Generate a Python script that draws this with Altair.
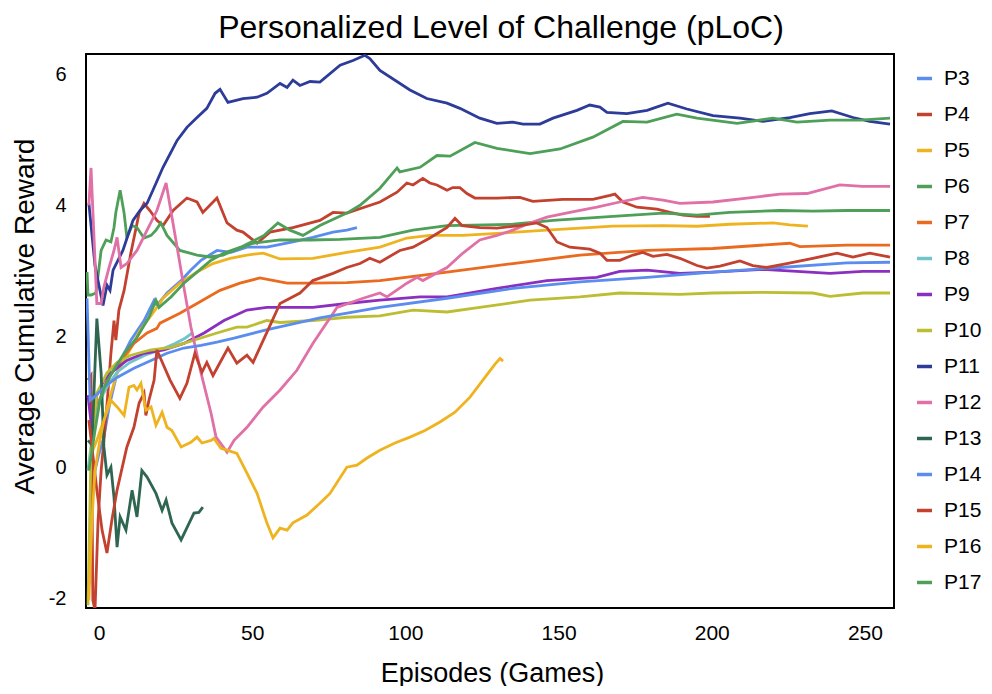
import altair as alt
import pandas as pd

SERIES = ["P3", "P4", "P5", "P6", "P7", "P8", "P9", "P10",
          "P11", "P12", "P13", "P14", "P15", "P16", "P17"]
COLORS = ["#5b8def", "#c2412f", "#efb320", "#4e9f57", "#ea6a1f", "#71c4cc",
          "#8a2fc0", "#bdbd33", "#2d3b99", "#e070a6", "#2e6651", "#5b8def",
          "#c2412f", "#efb320", "#4e9f57"]

X_TICKS = [0, 50, 100, 150, 200, 250]
Y_TICKS = [-2, 0, 2, 4, 6]

# values (episode, average cumulative reward)
P3_X = [-2.9, -1.3, 0.3, 1.6, 3.3, 5.9, 8.2, 10.4, 14.7, 18.0, 18.9, 22.2, 26.8,
        30.0, 33.3, 38.5, 43.1, 48.3, 54.8, 63.3, 69.8, 76.4, 80.9, 84.2]
P3_Y = [-0.81, -0.05, 0.26, 0.46, 0.92, 1.44, 1.74, 1.94, 2.24, 2.55, 2.47, 2.66,
        2.85, 3.01, 3.16, 3.31, 3.28, 3.36, 3.36, 3.44, 3.51, 3.59, 3.62, 3.66]

P4_X = [-3.6, -2.6, -2.0, -1.3, -0.3, 0.7, 1.6, 2.6, 3.9, 4.9, 5.5, 6.5, 8.2, 10.4,
        13.1, 14.7, 16.6, 18.9, 20.9, 24.2, 28.7, 32.0, 33.9, 38.5, 41.8, 45.0,
        47.0, 51.6, 55.8, 63.3, 72.1, 76.4, 80.9, 91.7, 97.3, 100.5, 102.5, 105.7,
        108.0, 110.3, 113.6, 115.5, 117.8, 120.1, 122.7, 129.9, 137.4, 141.6,
        151.4, 161.2, 166.8, 168.4, 171.0, 175.6, 182.1, 186.4, 190.6, 195.2, 199.4]
P4_Y = [1.33, 1.40, -2.03, -2.18, -0.81, -0.05, 0.41, 0.95, 1.74, 2.24, 1.94, 2.40,
        2.70, 3.27, 3.88, 4.03, 3.92, 3.77, 3.69, 3.92, 4.11, 4.05, 3.89, 4.11,
        3.73, 3.62, 3.59, 3.42, 3.59, 3.66, 3.77, 3.89, 3.88, 4.05, 4.20, 4.34,
        4.31, 4.41, 4.34, 4.31, 4.23, 4.27, 4.27, 4.18, 4.11, 4.11, 4.12, 4.06,
        4.09, 4.09, 4.15, 4.17, 4.05, 3.97, 3.94, 3.89, 3.85, 3.83, 3.83]

P5_X = [-3.3, -2.0, -0.7, 1.6, 3.3, 5.9, 10.4, 13.4, 16.6, 18.9, 20.9, 26.4, 32.0,
        37.2, 42.8, 48.3, 53.6, 59.1, 69.8, 80.9, 91.7, 100.5, 108.0, 118.8,
        129.9, 146.2, 157.0, 167.8, 184.1, 195.2, 205.9, 220.0, 225.5, 231.4]
P5_Y = [-0.05, 0.26, 0.41, 0.72, 1.02, 1.44, 1.82, 2.09, 2.29, 2.44, 2.58, 2.81,
        2.98, 3.11, 3.19, 3.24, 3.27, 3.18, 3.19, 3.28, 3.36, 3.50, 3.54, 3.54,
        3.57, 3.62, 3.65, 3.68, 3.69, 3.68, 3.71, 3.73, 3.70, 3.68]

P6_X = [-3.9, -3.6, -2.6, -1.0, 0.7, 2.3, 3.9, 4.9, 5.5, 6.9, 8.2, 9.1, 10.8, 12.4,
        14.7, 17.0, 18.6, 20.2, 22.2, 26.4, 32.0, 36.2, 40.5, 45.0, 50.3, 59.1,
        68.9, 78.7, 91.7, 102.5, 113.6, 135.1, 148.2, 167.8, 184.1, 195.2, 205.9,
        222.3, 233.0, 244.1, 258.2]
P6_Y = [2.98, 2.63, 2.63, 2.66, 3.31, 3.47, 3.44, 3.66, 3.89, 4.23, 3.88, 3.51,
        3.69, 3.66, 3.50, 3.54, 3.62, 3.73, 3.54, 3.31, 3.24, 3.21, 3.24, 3.33,
        3.42, 3.47, 3.47, 3.48, 3.51, 3.62, 3.69, 3.71, 3.77, 3.83, 3.88, 3.85,
        3.89, 3.92, 3.91, 3.92, 3.92]

P7_X = [-2.6, -0.7, 2.6, 7.2, 11.4, 15.7, 18.9, 19.9, 26.4, 32.0, 39.5, 46.0, 52.5,
        61.4, 69.8, 80.9, 91.7, 113.6, 135.1, 157.0, 178.9, 200.4, 225.5, 228.8,
        244.1, 258.2]
P7_Y = [0.56, 0.92, 1.33, 1.63, 1.89, 2.05, 2.12, 2.20, 2.35, 2.50, 2.70, 2.81,
        2.89, 2.81, 2.81, 2.82, 2.85, 2.98, 3.11, 3.24, 3.31, 3.34, 3.42, 3.37,
        3.39, 3.39]

P8_X = [-3.6, -2.0, 0.3, 2.9, 5.9, 10.1, 15.0, 19.9, 24.8, 28.1, 30.7]
P8_Y = [-0.05, 0.56, 1.02, 1.25, 1.45, 1.60, 1.71, 1.79, 1.89, 1.97, 2.06]

P9_X = [-3.6, -2.3, -0.7, 1.6, 4.9, 9.1, 14.7, 21.2, 27.7, 34.3, 40.8, 48.3, 54.8,
        69.8, 80.9, 91.7, 104.8, 113.6, 129.9, 146.2, 162.5, 170.0, 178.9, 189.6,
        200.4, 216.7, 227.8, 238.6, 249.3, 258.2]
P9_Y = [1.10, 0.56, 1.10, 1.33, 1.48, 1.63, 1.74, 1.79, 1.89, 2.05, 2.24, 2.40,
        2.44, 2.44, 2.50, 2.55, 2.60, 2.60, 2.73, 2.85, 2.90, 2.99, 3.01, 2.96,
        2.98, 3.02, 2.99, 2.96, 2.99, 2.99]

P10_X = [-3.6, -2.6, -0.7, 2.6, 5.9, 10.4, 17.0, 23.5, 31.0, 38.5, 45.0, 48.3, 54.8,
         59.1, 69.8, 80.9, 91.7, 102.5, 113.6, 124.3, 140.7, 157.0, 170.0, 189.6,
         200.4, 216.7, 233.0, 238.6, 249.3, 258.2]
P10_Y = [-2.11, 0.26, 1.13, 1.44, 1.60, 1.71, 1.79, 1.83, 1.94, 2.05, 2.14, 2.14,
         2.24, 2.21, 2.24, 2.29, 2.31, 2.40, 2.37, 2.44, 2.55, 2.60, 2.66, 2.64,
         2.66, 2.67, 2.66, 2.61, 2.66, 2.66]

P11_X = [-3.3, -1.3, 1.3, 2.6, 3.6, 4.6, 7.8, 11.1, 13.4, 15.7, 17.6, 20.9, 25.5,
         28.7, 32.0, 35.2, 37.9, 39.5, 42.1, 47.0, 51.6, 54.8, 59.1, 61.4, 63.3,
         65.6, 68.9, 72.1, 78.7, 82.9, 86.8, 88.4, 91.7, 101.5, 107.0, 113.6,
         117.8, 124.3, 129.9, 135.1, 138.4, 143.9, 148.2, 156.0, 160.2, 163.5,
         165.8, 172.3, 178.9, 185.7, 191.9, 200.4, 209.2, 216.7, 225.5, 232.0,
         239.2, 246.1, 251.6, 258.2]
P11_Y = [4.03, 3.08, 2.47, 2.78, 2.70, 3.01, 3.31, 3.77, 3.92, 4.03, 4.23, 4.58,
         4.99, 5.19, 5.34, 5.48, 5.71, 5.77, 5.57, 5.63, 5.65, 5.71, 5.86, 5.80,
         5.91, 5.83, 5.89, 5.88, 6.14, 6.21, 6.29, 6.24, 6.06, 5.76, 5.63, 5.56,
         5.48, 5.33, 5.25, 5.27, 5.24, 5.24, 5.33, 5.45, 5.53, 5.50, 5.42, 5.40,
         5.45, 5.56, 5.47, 5.37, 5.33, 5.28, 5.34, 5.40, 5.44, 5.34, 5.28, 5.24]

P12_X = [-3.3, -2.6, -0.7, 0.7, 1.6, 3.3, 4.9, 5.9, 7.2, 9.1, 12.4, 15.7, 18.9,
         21.9, 25.1, 27.7, 30.0, 33.3, 36.6, 38.2, 41.8, 44.1, 48.3, 53.6, 59.1,
         64.6, 69.8, 77.7, 86.2, 91.7, 94.0, 100.5, 103.8, 105.7, 113.6, 118.8,
         124.3, 129.9, 135.1, 140.7, 146.2, 153.7, 162.5, 170.0, 177.5, 184.1,
         189.6, 200.4, 211.5, 222.3, 231.1, 241.8, 249.3, 258.2]
P12_Y = [4.00, 4.57, 2.50, 2.50, 2.75, 3.05, 3.31, 3.51, 3.05, 3.11, 3.31, 3.62,
         3.92, 4.34, 3.47, 2.75, 2.14, 1.44, 0.82, 0.46, 0.23, 0.41, 0.61, 0.92,
         1.18, 1.48, 1.89, 2.44, 2.58, 2.66, 2.60, 2.81, 2.90, 2.85, 3.05, 3.27,
         3.47, 3.54, 3.62, 3.73, 3.82, 3.89, 3.97, 4.05, 4.12, 4.08, 4.03, 4.05,
         4.11, 4.17, 4.18, 4.31, 4.29, 4.29]

P13_X = [-3.6, -2.3, -0.7, 0.7, 1.6, 2.6, 3.9, 4.9, 5.9, 6.9, 8.8, 10.8, 12.4, 14.0,
         15.7, 18.6, 20.6, 21.9, 23.8, 26.8, 31.0, 32.6, 33.9]
P13_Y = [0.41, 0.34, 2.27, 1.44, 0.31, -0.12, 0.00, -0.46, -1.22, -0.76, -0.96,
         -0.35, -0.76, -0.05, -0.15, -0.40, -0.66, -0.50, -0.85, -1.11, -0.70,
         -0.69, -0.61]

P14_X = [-3.9, -2.9, -1.6, 1.6, 5.9, 11.4, 17.0, 22.2, 27.7, 33.3, 38.5, 44.1, 53.9,
         72.1, 91.7, 113.6, 135.1, 157.0, 178.9, 200.4, 222.3, 244.1, 258.2]
P14_Y = [2.58, 1.02, 1.07, 1.22, 1.37, 1.51, 1.63, 1.74, 1.82, 1.86, 1.91, 1.97,
         2.09, 2.28, 2.44, 2.58, 2.73, 2.83, 2.90, 2.98, 3.05, 3.12, 3.13]

P15_X = [-3.3, -0.7, 1.0, 2.6, 4.2, 5.9, 9.1, 11.4, 13.1, 14.7, 15.3, 16.3, 18.0,
         18.9, 23.2, 26.4, 28.7, 31.3, 33.6, 35.2, 37.2, 42.1, 45.0, 48.3, 50.3,
         54.8, 59.1, 65.6, 69.8, 76.4, 80.9, 85.2, 88.4, 91.7, 98.2, 102.5, 108.0,
         113.6, 116.2, 118.5, 124.3, 129.9, 137.4, 142.9, 146.2, 149.5, 153.7,
         160.2, 163.5, 165.8, 170.0, 174.3, 177.5, 180.8, 185.4, 189.6, 195.2,
         198.4, 202.7, 209.2, 213.4, 218.0, 224.5, 233.0, 240.9, 246.1, 251.6, 258.2]
P15_Y = [0.72, -0.35, -0.96, -1.31, -0.81, -0.35, 0.31, 0.61, 0.98, 1.13, 0.79,
         1.02, 1.33, 1.79, 1.33, 1.05, 1.28, 1.74, 1.45, 1.60, 1.40, 1.82, 1.59,
         1.71, 1.60, 2.06, 2.50, 2.66, 2.85, 2.96, 3.05, 3.11, 3.19, 3.13, 3.31,
         3.36, 3.50, 3.66, 3.80, 3.69, 3.66, 3.65, 3.69, 3.73, 3.66, 3.44, 3.36,
         3.33, 3.27, 3.16, 3.16, 3.24, 3.28, 3.22, 3.25, 3.19, 3.08, 3.04, 3.07,
         3.15, 3.08, 3.05, 3.11, 3.19, 3.27, 3.21, 3.27, 3.21]

P16_X = [-3.3, -2.3, -1.3, 0.3, 1.6, 3.9, 5.9, 8.2, 9.8, 11.4, 12.4, 13.7, 15.3,
         17.0, 18.6, 20.6, 22.2, 23.8, 26.8, 30.0, 32.0, 33.6, 36.6, 37.5, 39.8,
         41.8, 45.0, 48.3, 51.6, 54.8, 56.8, 59.1, 61.4, 63.3, 67.9, 72.1, 75.4,
         80.9, 84.2, 87.5, 91.7, 96.6, 101.5, 106.4, 111.3, 116.2, 121.1, 125.3,
         129.2, 130.9, 131.9]
P16_Y = [-2.03, -0.81, -0.05, 0.41, 0.72, 1.02, 0.92, 0.79, 1.22, 1.25, 1.18, 1.28,
         0.87, 0.92, 0.64, 0.84, 0.61, 0.56, 0.31, 0.38, 0.46, 0.37, 0.41, 0.44,
         0.29, 0.26, 0.21, -0.09, -0.40, -0.85, -1.08, -0.93, -0.96, -0.85, -0.73,
         -0.55, -0.40, 0.00, 0.03, 0.14, 0.26, 0.37, 0.46, 0.56, 0.69, 0.84, 1.07,
         1.33, 1.57, 1.66, 1.62]

P17_X = [-3.3, -1.3, 0.3, 2.0, 4.2, 8.2, 12.4, 16.3, 18.6, 19.6, 23.5, 27.7, 32.0,
         36.6, 40.8, 46.3, 53.9, 58.4, 62.3, 66.6, 72.1, 80.9, 85.2, 91.7, 97.3,
         98.2, 104.8, 110.3, 114.6, 122.7, 129.9, 140.7, 150.5, 161.2, 171.0,
         178.9, 188.6, 195.2, 208.3, 220.0, 227.8, 238.6, 248.4, 258.2]
P17_Y = [-0.05, 0.56, 1.02, 1.25, 1.44, 1.74, 1.98, 2.29, 2.55, 2.44, 2.60, 2.81,
         2.98, 3.16, 3.27, 3.36, 3.54, 3.73, 3.62, 3.54, 3.69, 3.88, 4.00, 4.26,
         4.57, 4.51, 4.58, 4.76, 4.75, 4.96, 4.87, 4.79, 4.86, 5.04, 5.28, 5.27,
         5.39, 5.33, 5.25, 5.33, 5.27, 5.30, 5.30, 5.33]

PAIRS = [
    ("P3", P3_X, P3_Y), ("P4", P4_X, P4_Y), ("P5", P5_X, P5_Y),
    ("P6", P6_X, P6_Y), ("P7", P7_X, P7_Y), ("P8", P8_X, P8_Y),
    ("P9", P9_X, P9_Y), ("P10", P10_X, P10_Y), ("P11", P11_X, P11_Y),
    ("P12", P12_X, P12_Y), ("P13", P13_X, P13_Y), ("P14", P14_X, P14_Y),
    ("P15", P15_X, P15_Y), ("P16", P16_X, P16_Y), ("P17", P17_X, P17_Y),
]

data = pd.concat(
    [pd.DataFrame({"participant": name, "episode": xs, "reward": ys})
     for name, xs, ys in PAIRS],
    ignore_index=True,
)

FONT = "Liberation Sans, Arial, sans-serif"
NARROW = "Liberation Sans Narrow, Arial Narrow, Liberation Sans, sans-serif"

chart = alt.Chart(data).mark_line(strokeWidth=2.8, clip=True).encode(
    x=alt.X(
        "episode:Q",
        title="Episodes (Games)",
        scale=alt.Scale(domain=[-4.24, 259.5], nice=False, zero=False),
        axis=alt.Axis(
            values=X_TICKS, labelFontSize=21, labelPadding=14,
            labelFont=NARROW, titleFontSize=27,
            titleX=406, titleY=73, titleBaseline="alphabetic",
        ),
    ),
    y=alt.Y(
        "reward:Q",
        title="Average Cumulative Reward",
        scale=alt.Scale(domain=[-2.15, 6.31], nice=False, zero=False),
        axis=alt.Axis(
            values=Y_TICKS, labelFontSize=20, labelPadding=20, labelFont=FONT,
            labelExpr="datum.value + ''",
            titleFontSize=28, titleX=-53, titleY=262,
            titleBaseline="alphabetic", titleAngle=-90,
        ),
    ),
    color=alt.Color(
        "participant:N",
        scale=alt.Scale(domain=SERIES, range=COLORS),
        legend=alt.Legend(
            title=None, orient="none", legendX=828, legendY=14,
            symbolType="stroke", symbolSize=225, symbolStrokeWidth=3.5,
            labelFontSize=21, labelOffset=9, rowPadding=14, labelFont=FONT,
        ),
    ),
).properties(
    width=808,
    height=554,
    title=alt.TitleParams(
        "Personalized Level of Challenge (pLoC)",
        fontSize=32, font=FONT, fontWeight="normal", color="black",
        anchor="middle", frame="group", offset=9, dx=11,
    ),
    autosize=alt.AutoSizeParams(type="none"),
    padding={"left": 78, "top": 46, "right": 90, "bottom": 78},
).configure_view(
    stroke="black", strokeWidth=2
).configure_axis(
    grid=False, domain=False, ticks=False, labelColor="black",
    titleColor="black", titleFontWeight="normal", titleFont=FONT,
).configure_legend(
    labelColor="black"
)

chart.save("out.html", embed_options={"renderer": "svg", "actions": False})
